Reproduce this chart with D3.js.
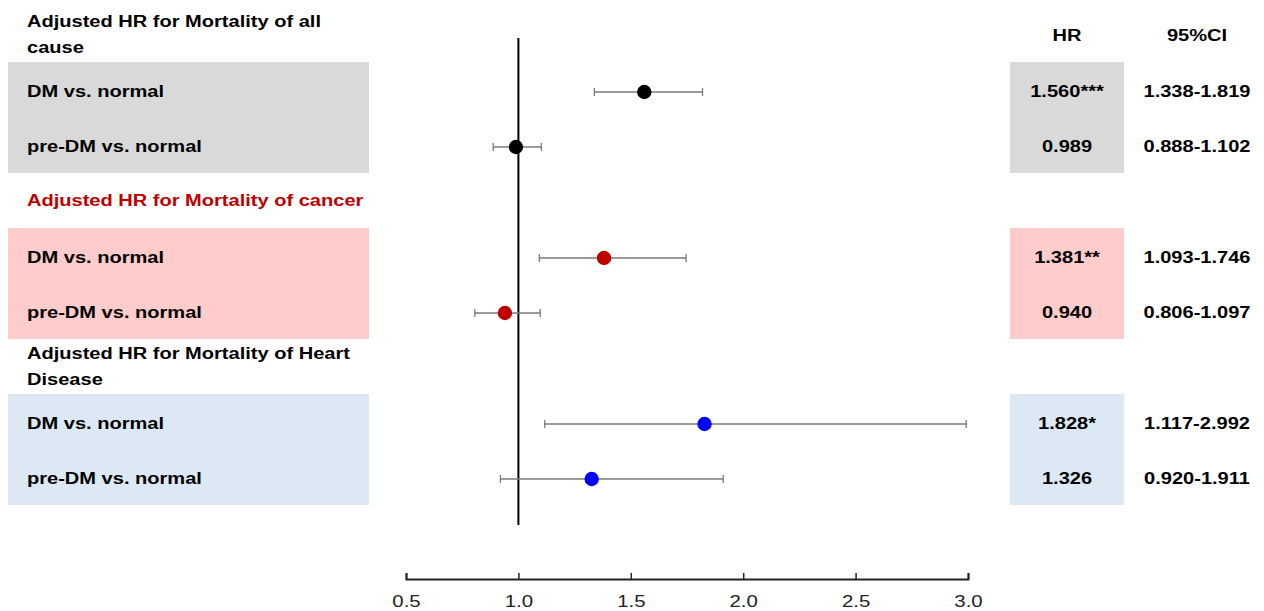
<!DOCTYPE html>
<html>
<head>
<meta charset="utf-8">
<script src="https://cdn.jsdelivr.net/npm/d3@7"></script>
<style>
  body { margin: 0; background: #fff; }
  text { font-family: "Liberation Sans", Arial, sans-serif; }
</style>
</head>
<body>
<div id="chart"></div>
<script>
// groups (outcomes)
var groupTitles = [
  ["Adjusted HR for Mortality of all", "cause"],
  ["Adjusted HR for Mortality of cancer"],
  ["Adjusted HR for Mortality of Heart", "Disease"]
];
var rowLabels = ["DM vs. normal", "pre-DM vs. normal"];
var hrValues = [1.560, 0.989, 1.381, 0.940, 1.828, 1.326];
var ciLow = [1.338, 0.888, 1.093, 0.806, 1.117, 0.920];
var ciHigh = [1.819, 1.102, 1.746, 1.097, 2.992, 1.911];
var hrLabels = ["1.560***", "0.989", "1.381**", "0.940", "1.828*", "1.326"];
var ciLabels = ["1.338-1.819", "0.888-1.102", "1.093-1.746", "0.806-1.097", "1.117-2.992", "0.920-1.911"];
var xTicks = [0.5, 1.0, 1.5, 2.0, 2.5, 3.0];

var bandColors = ["#d9d9d9", "#ffcccc", "#dce9f5"];
var titleColors = ["#000", "#c00000", "#000"];
var dotColors = ["#000", "#c00000", "#0000ff"];

var width = 1264, height = 611;
var sx = 1.18; // the original picture is a bit wider than tall

var svg = d3.select("#chart")
  .append("svg")
  .attr("width", width)
  .attr("height", height);

// x scale for HR
var xScale = d3.scaleLinear()
  .domain([0.5, 3.0])
  .range([406, 968]);

// group layout
var groupTop = function (g) { return 62 + g * 166; };
var bandH = 111;
var rowY = function (i) {
  var g = Math.floor(i / 2), r = i % 2;
  return groupTop(g) + 29 + r * 55;
};

var rows = hrValues.map(function (v, i) {
  return {
    group: Math.floor(i / 2),
    label: rowLabels[i % 2],
    hr: v, lo: ciLow[i], hi: ciHigh[i],
    hrText: hrLabels[i], ciText: ciLabels[i]
  };
});

function place(x, y) { return "translate(" + x + "," + y + ") scale(" + sx + ",1)"; }

// background bands (left labels + HR column)
svg.selectAll(".band")
  .data(groupTitles)
  .join("rect")
  .attr("x", 8)
  .attr("y", function (d, g) { return groupTop(g); })
  .attr("width", 361)
  .attr("height", bandH)
  .attr("fill", function (d, g) { return bandColors[g]; });

svg.selectAll(".hrband")
  .data(groupTitles)
  .join("rect")
  .attr("x", 1010)
  .attr("y", function (d, g) { return groupTop(g); })
  .attr("width", 114)
  .attr("height", bandH)
  .attr("fill", function (d, g) { return bandColors[g]; });

// group titles
groupTitles.forEach(function (lines, g) {
  var y0 = lines.length === 2 ? groupTop(g) - 35 : groupTop(g) - 22;
  var t = svg.append("text")
    .attr("transform", place(27, y0))
    .attr("font-size", 17)
    .attr("font-weight", "bold")
    .attr("fill", titleColors[g]);
  lines.forEach(function (l, k) {
    t.append("tspan")
      .attr("x", 0)
      .attr("y", k * 26)
      .text(l);
  });
});

// row labels
svg.selectAll(".rowlabel")
  .data(rows)
  .join("text")
  .attr("transform", function (d, i) { return place(27, rowY(i)); })
  .attr("dy", "0.35em")
  .attr("font-size", 17)
  .attr("font-weight", "bold")
  .attr("fill", "#000")
  .text(function (d) { return d.label; });

// table headers
svg.append("text").attr("transform", place(1067, 35)).attr("dy", "0.35em")
  .attr("text-anchor", "middle").attr("font-size", 17).attr("font-weight", "bold").text("HR");
svg.append("text").attr("transform", place(1197, 35)).attr("dy", "0.35em")
  .attr("text-anchor", "middle").attr("font-size", 17).attr("font-weight", "bold").text("95%CI");

svg.selectAll(".hrtext")
  .data(rows)
  .join("text")
  .attr("transform", function (d, i) { return place(1067, rowY(i)); })
  .attr("dy", "0.35em")
  .attr("text-anchor", "middle")
  .attr("font-size", 17)
  .attr("font-weight", "bold")
  .text(function (d) { return d.hrText; });

svg.selectAll(".citext")
  .data(rows)
  .join("text")
  .attr("transform", function (d, i) { return place(1197, rowY(i)); })
  .attr("dy", "0.35em")
  .attr("text-anchor", "middle")
  .attr("font-size", 17)
  .attr("font-weight", "bold")
  .text(function (d) { return d.ciText; });

// reference line at HR = 1
svg.append("line")
  .attr("x1", xScale(1)).attr("x2", xScale(1))
  .attr("y1", 38).attr("y2", 525)
  .attr("stroke", "#000")
  .attr("stroke-width", 2);

// error bars
var eb = svg.selectAll(".eb")
  .data(rows)
  .join("g")
  .attr("transform", function (d, i) { return "translate(0," + (rowY(i) + 1) + ")"; });

eb.append("line")
  .attr("x1", function (d) { return xScale(d.lo); })
  .attr("x2", function (d) { return xScale(d.hi); })
  .attr("stroke", "#7a7a7a")
  .attr("stroke-width", 1.3);

eb.append("line")
  .attr("x1", function (d) { return xScale(d.lo); })
  .attr("x2", function (d) { return xScale(d.lo); })
  .attr("y1", -4).attr("y2", 4)
  .attr("stroke", "#7a7a7a")
  .attr("stroke-width", 1.3);

eb.append("line")
  .attr("x1", function (d) { return xScale(d.hi); })
  .attr("x2", function (d) { return xScale(d.hi); })
  .attr("y1", -4).attr("y2", 4)
  .attr("stroke", "#7a7a7a")
  .attr("stroke-width", 1.3);

eb.append("circle")
  .attr("cx", function (d) { return xScale(d.hr); })
  .attr("r", 7.2)
  .attr("fill", function (d) { return dotColors[d.group]; });

// x axis
var xAxis = d3.axisBottom(xScale)
  .tickValues(xTicks)
  .tickFormat(d3.format(".1f"))
  .tickSizeInner(-6)
  .tickSizeOuter(-6)
  .tickPadding(16);

var ax = svg.append("g")
  .attr("transform", "translate(0,579)")
  .call(xAxis);

ax.select(".domain").attr("stroke", "#222").attr("stroke-width", 2);
ax.selectAll(".tick line").attr("stroke", "#222").attr("stroke-width", 1.5);
ax.selectAll(".tick text")
  .attr("font-size", 17)
  .attr("fill", "#222")
  .attr("transform", "scale(1.2,1)")
  .style("font-family", "Liberation Sans, Arial, sans-serif");
</script>
</body>
</html>
